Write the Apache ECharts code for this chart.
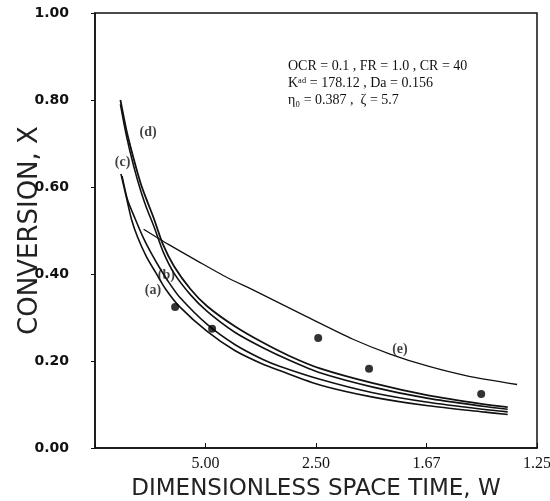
<!DOCTYPE html>
<html>
<head>
<meta charset="utf-8">
<script src="https://cdn.jsdelivr.net/npm/echarts@6/dist/echarts.min.js"></script>
<style>
html, body { margin: 0; background: #fff; }
#main { width: 550px; height: 501px; }
</style>
</head>
<body>
<div id="main"></div>
<script>
// x = 1/W, labels show W
var wLabels = ['', '5.00', '2.50', '1.67', '1.25'];
var xLabels = ['0.00', '0.20', '0.40', '0.60', '0.80', '1.00'];

var curveA = [[0.047, 0.63], [0.057, 0.575], [0.066, 0.526], [0.077, 0.485], [0.093, 0.44], [0.11, 0.403],
    [0.128, 0.365], [0.153, 0.325], [0.203, 0.268], [0.253, 0.224], [0.303, 0.193], [0.334, 0.178], [0.407, 0.145],
    [0.503, 0.117], [0.603, 0.097], [0.702, 0.083], [0.747, 0.077]];
var curveB = [[0.049, 0.625], [0.059, 0.57], [0.073, 0.526], [0.088, 0.482], [0.103, 0.445], [0.118, 0.412],
    [0.133, 0.382], [0.153, 0.347], [0.203, 0.284], [0.253, 0.238], [0.303, 0.204], [0.334, 0.188], [0.407, 0.158],
    [0.503, 0.127], [0.603, 0.105], [0.702, 0.089], [0.747, 0.083]];
var curveC = [[0.046, 0.79], [0.057, 0.717], [0.07, 0.648], [0.083, 0.59], [0.093, 0.553], [0.107, 0.508],
    [0.123, 0.452], [0.143, 0.402], [0.173, 0.352], [0.203, 0.314], [0.253, 0.266], [0.303, 0.231], [0.353, 0.201],
    [0.407, 0.173], [0.503, 0.14], [0.603, 0.114], [0.702, 0.096], [0.747, 0.089]];
var curveD = [[0.046, 0.8], [0.057, 0.73], [0.07, 0.665], [0.083, 0.607], [0.093, 0.572], [0.107, 0.526],
    [0.123, 0.468], [0.143, 0.418], [0.173, 0.365], [0.203, 0.326], [0.253, 0.28], [0.303, 0.243], [0.353, 0.211],
    [0.407, 0.183], [0.503, 0.149], [0.603, 0.121], [0.702, 0.101], [0.747, 0.094]];
var curveE = [[0.088, 0.503], [0.133, 0.468], [0.188, 0.428], [0.239, 0.392], [0.285, 0.364], [0.334, 0.333],
    [0.383, 0.302], [0.467, 0.25], [0.534, 0.216], [0.603, 0.188], [0.673, 0.166], [0.764, 0.146]];
var expPoints = [[0.145, 0.324], [0.212, 0.274], [0.404, 0.253], [0.496, 0.182], [0.699, 0.124]];

var curveLabels = [[0.105, 0.363, '(a)'], [0.129, 0.397, '(b)'], [0.05, 0.656, '(c)'],
    [0.096, 0.725, '(d)'], [0.552, 0.226, '(e)']];
var notes = ['OCR = 0.1 , FR = 1.0 , CR = 40', 'Kᵃᵈ = 178.12 , Da = 0.156', 'η₀ = 0.387 ,  ζ = 5.7'];

function curve(name, data, width) {
    return {
        name: name,
        type: 'line',
        data: data,
        symbol: 'none',
        smooth: 0.25,
        lineStyle: {color: '#111', width: width},
        z: 3
    };
}

var chart = echarts.init(document.getElementById('main'));
var option = {
    animation: false,
    backgroundColor: '#fff',
    grid: {
        left: 95, right: 13, top: 13, bottom: 53, show: true, borderColor: '#111', borderWidth: 1.5,
        containLabel: false, outerBoundsMode: 'none'
    },
    xAxis: {
        type: 'value', min: 0, max: 0.8, interval: 0.2,
        name: 'DIMENSIONLESS SPACE TIME, W',
        nameLocation: 'middle', nameGap: 30, nameMoveOverlap: false,
        nameTextStyle: {fontFamily: 'DejaVu Sans', fontSize: 23, color: '#222'},
        axisLine: {lineStyle: {color: '#111', width: 1.5}},
        axisTick: {inside: true, length: 5, lineStyle: {color: '#111'}},
        axisLabel: {
            formatter: function (v, i) { return wLabels[i]; },
            fontFamily: 'Liberation Serif', fontSize: 16, color: '#111', margin: 8
        },
        splitLine: {show: false}
    },
    yAxis: {
        type: 'value', min: 0, max: 1, interval: 0.2,
        name: 'CONVERSION, X',
        nameLocation: 'middle', nameGap: 52, nameMoveOverlap: false,
        nameTextStyle: {fontFamily: 'DejaVu Sans', fontSize: 26, color: '#222'},
        axisLine: {lineStyle: {color: '#111', width: 1.5}},
        axisTick: {length: 4, lineStyle: {color: '#111'}},
        axisLabel: {
            formatter: function (v, i) { return xLabels[i]; },
            fontFamily: 'DejaVu Sans', fontWeight: 'bold', fontSize: 14, color: '#111', margin: 26
        },
        splitLine: {show: false}
    },
    graphic: [{
        type: 'text', left: 288, top: 58,
        style: {text: notes.join('\n'), font: '14px "Liberation Serif"', lineHeight: 17, fill: '#111'}
    }],
    series: [
        curve('a', curveA, 1.6),
        curve('b', curveB, 1.6),
        curve('c', curveC, 1.6),
        curve('d', curveD, 1.8),
        curve('e', curveE, 1.3),
        {
            name: 'exp', type: 'scatter', data: expPoints, symbolSize: 8,
            itemStyle: {color: '#000'}, z: 4
        },
        {
            name: 'labels', type: 'scatter', symbolSize: 0, silent: true,
            data: curveLabels.map(function (l) { return {value: [l[0], l[1]], name: l[2]}; }),
            label: {
                show: true, position: 'inside', formatter: '{b}',
                fontFamily: 'Liberation Serif', fontWeight: 'bold', fontSize: 14, color: '#111'
            },
            z: 5
        }
    ]
};
chart.setOption(option);
</script>
</body>
</html>
